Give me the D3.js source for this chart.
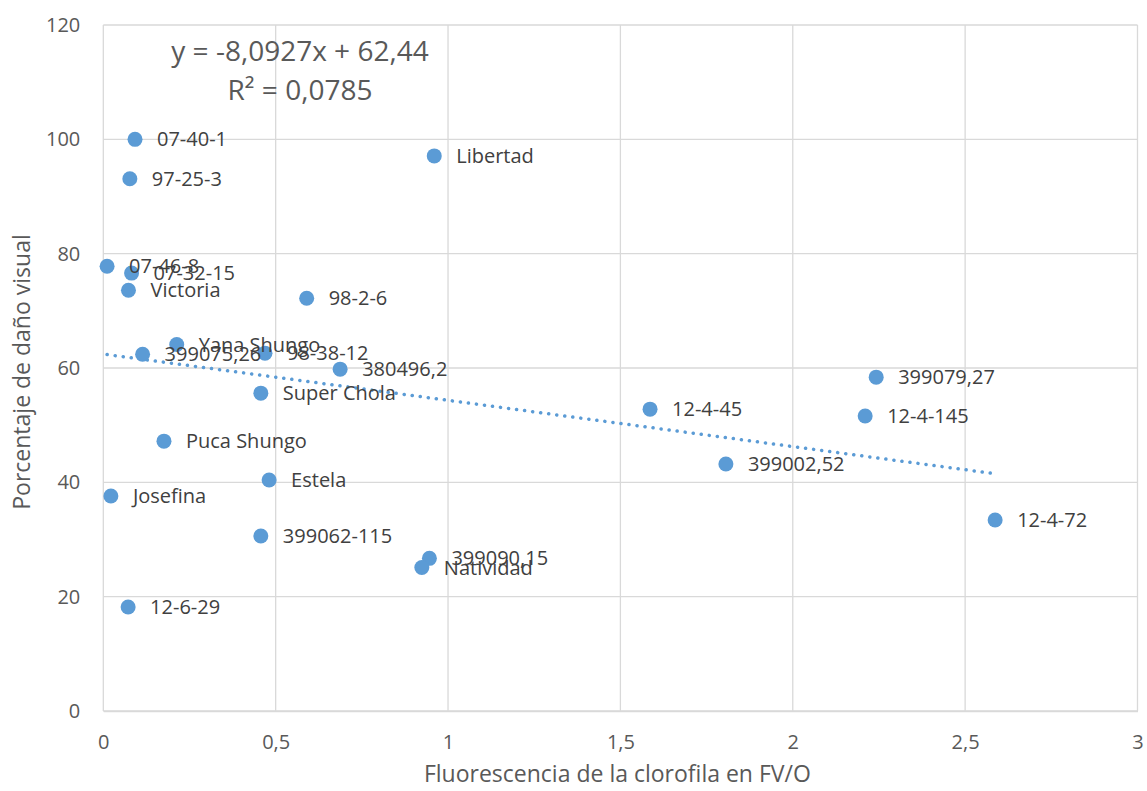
<!DOCTYPE html>
<html><head><meta charset="utf-8">
<script src="https://cdn.jsdelivr.net/npm/d3@7"></script>
<style>body{margin:0;background:#fff}svg{display:block}text{font-family:"Open Sans","Noto Sans",sans-serif}</style>
</head><body>
<svg id="c" width="1147" height="791"></svg>
<script>
const names = ["07-40-1","97-25-3","Libertad","07-46-8","07-32-15","Victoria","98-2-6","Yana Shungo","399075,26","98-38-12","380496,2","Super Chola","Puca Shungo","Estela","Josefina","399062-115","399090,15","Natividad","12-6-29","12-4-45","399002,52","399079,27","12-4-145","12-4-72"];
const xVals = [0.092,0.077,0.96,0.011,0.082,0.073,0.59,0.213,0.114,0.469,0.687,0.457,0.176,0.481,0.022,0.457,0.946,0.924,0.072,1.586,1.806,2.242,2.21,2.587];
const yVals = [100,93.1,97.1,77.8,76.6,73.6,72.2,64.1,62.4,62.6,59.8,55.6,47.2,40.4,37.6,30.6,26.7,25.1,18.2,52.8,43.2,58.4,51.6,33.4];
const xTicks = [0,0.5,1,1.5,2,2.5,3];
const yTicks = [0,20,40,60,80,100,120];
const slope = -8.0927, intercept = 62.44;
const eqText = "y = -8,0927x + 62,44";
const r2Text = "R² = 0,0785";
const xTitle = "Fluorescencia de la clorofila en FV/O";
const yTitle = "Porcentaje de daño visual";

const svg = d3.select("#c");
const L=103.3, R=1137.5, T=25, B=711;
const x = d3.scaleLinear().domain([0,3]).range([L,R]);
const y = d3.scaleLinear().domain([0,120]).range([B,T]);
const fmt = d => String(d).replace(".", ",");

// gridlines
svg.append("g").selectAll("line").data(yTicks).join("line")
  .attr("x1",L).attr("x2",R).attr("y1",d=>y(d)).attr("y2",d=>y(d))
  .attr("stroke","#d9d9d9").attr("stroke-width",1.3);
svg.append("g").selectAll("line").data(xTicks).join("line")
  .attr("x1",d=>x(d)).attr("x2",d=>x(d)).attr("y1",T).attr("y2",B)
  .attr("stroke","#d9d9d9").attr("stroke-width",1.3);

// axes (labels only)
const gx = svg.append("g").attr("transform",`translate(0,${B})`)
  .call(d3.axisBottom(x).tickValues(xTicks).tickFormat(fmt).tickSize(0).tickPadding(24));
gx.select(".domain").attr("stroke","#d9d9d9").attr("stroke-width",1.3);
gx.selectAll("text").attr("font-size",20).attr("fill","#595959");
const gy = svg.append("g").attr("transform",`translate(${L},0)`)
  .call(d3.axisLeft(y).tickValues(yTicks).tickSize(0).tickPadding(23));
gy.select(".domain").remove();
gy.selectAll("text").attr("font-size",20).attr("fill","#595959");

// trendline
const xs = d3.extent(xVals);
svg.append("line")
  .attr("x1",x(xs[0])).attr("y1",y(slope*xs[0]+intercept))
  .attr("x2",x(xs[1])).attr("y2",y(slope*xs[1]+intercept))
  .attr("stroke","#5b9bd5").attr("stroke-width",3.5)
  .attr("stroke-dasharray","0.1,8").attr("stroke-linecap","round");

const data = names.map((n,i)=>({n, x:xVals[i], y:yVals[i]}));
svg.append("g").selectAll("circle").data(data).join("circle")
  .attr("cx",d=>x(d.x)).attr("cy",d=>y(d.y)).attr("r",7.5).attr("fill","#5b9bd5");
svg.append("g").selectAll("text").data(data).join("text")
  .attr("x",d=>x(d.x)+22).attr("y",d=>y(d.y)+7)
  .attr("font-size",20).attr("fill","#404040").text(d=>d.n);

// equation
svg.append("text").attr("x",300).attr("y",61).attr("text-anchor","middle")
  .attr("font-size",28).attr("fill","#595959").text(eqText);
svg.append("text").attr("x",300).attr("y",100).attr("text-anchor","middle")
  .attr("font-size",28).attr("fill","#595959").text(r2Text);

// titles
svg.append("text").attr("x",(L+R)/2 - 3).attr("y",782).attr("text-anchor","middle")
  .attr("font-size",23).attr("fill","#595959").text(xTitle);
svg.append("text").attr("transform",`translate(30,${(T+B)/2 + 4}) rotate(-90)`).attr("text-anchor","middle")
  .attr("font-size",23).attr("fill","#595959").text(yTitle);
</script>
</body></html>
